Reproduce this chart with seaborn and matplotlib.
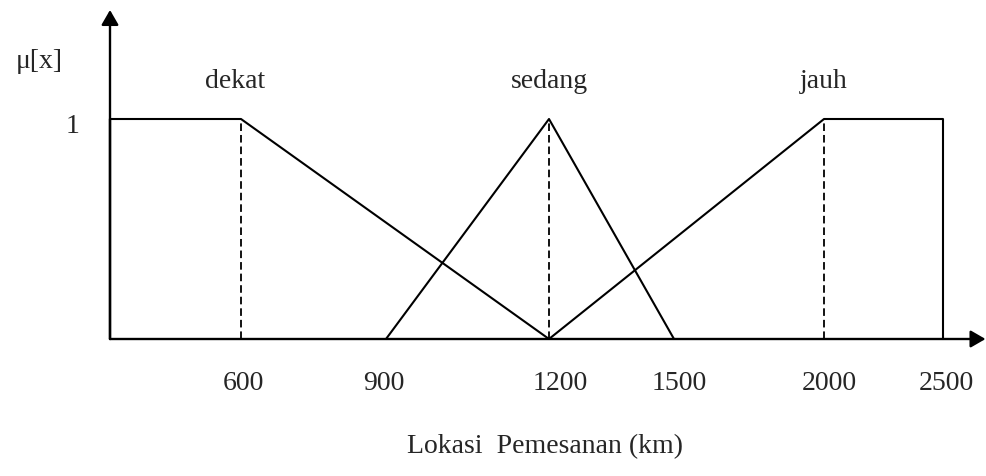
import numpy as np
import pandas as pd
import matplotlib
matplotlib.use("Agg")
import matplotlib.pyplot as plt
import matplotlib.transforms as mtransforms
import seaborn as sns

# Membership function breakpoints: distance (km) and degree of membership
dekat_km = [0, 600, 1200]
dekat_mu = [1, 1, 0]
sedang_km = [900, 1200, 1500]
sedang_mu = [0, 1, 0]
jauh_km = [1200, 2000, 2500, 2500]
jauh_mu = [0, 1, 1, 0]
set_names = ["dekat", "sedang", "jauh"]
set_label_km = [600, 1200, 2000]
guide_km = [600, 1200, 2000]
tick_km = [600, 900, 1200, 1500, 2000, 2500]
tick_labels = ["600", "900", "1200", "1500", "2000", "2500"]

# The horizontal axis is drawn as a sketch, not to a uniform scale:
# a piecewise-linear map from km to drawing position.
scale_km = np.array([-1000, 0, 600, 900, 1200, 1500, 2000, 2500, 3000], float)
scale_pos = np.array([0, 110, 241, 386, 549, 674, 824, 943, 986], float)

# small horizontal nudges (pixels) for hand-placed labels
set_label_nudge = [-6, 0, 0]
tick_label_nudge = [2, -2, 11, 5, 5, 3]


def forward(x):
    return np.interp(x, scale_km, scale_pos)


def inverse(p):
    return np.interp(p, scale_pos, scale_km)


df = pd.concat([
    pd.DataFrame({"km": dekat_km, "mu": dekat_mu, "set": "dekat"}),
    pd.DataFrame({"km": sedang_km, "mu": sedang_mu, "set": "sedang"}),
    pd.DataFrame({"km": jauh_km, "mu": jauh_mu, "set": "jauh"}),
], ignore_index=True)

sns.set_theme(style="white")
plt.rcParams["font.family"] = ["Liberation Serif", "DejaVu Serif"]

W, H = 986, 476
fig = plt.figure(figsize=(W / 100, H / 100), dpi=100)
ax = fig.add_axes([0, 0, 1, 1])
ax.set_xscale("function", functions=(forward, inverse))
ax.set_xlim(-1000, 3000)
# degree 0 sits at y=339 px, degree 1 at y=119 px
unit = 220.0
ax.set_ylim(-(H - 339) / unit, 339 / unit)
ax.axis("off")

lw = 1.5
sns.lineplot(data=df, x="km", y="mu", hue="set", hue_order=set_names,
             palette=["black"] * 3, sort=False, estimator=None,
             legend=False, linewidth=lw, ax=ax)

# dashed guides from the peaks down to the axis
for g in guide_km:
    ax.plot([g, g], [0, 1], color="black", lw=1.3, dashes=(4.2, 2.2),
            solid_capstyle="butt")

# axes with arrow heads
arrow = dict(arrowstyle="-|>,head_length=0.9,head_width=0.52",
             mutation_scale=10, lw=1.7, color="black",
             shrinkA=0, shrinkB=0)
x_tip = inverse(985.5)
ax.annotate("", xy=(x_tip, 0), xytext=(0, 0), arrowprops=arrow)
ax.annotate("", xy=(0, 329 / unit), xytext=(0, 0), arrowprops=arrow)
ax.plot([0, 0], [0, 1], color="black", lw=1.7)


def shifted(dx_px):
    return ax.transData + mtransforms.ScaledTranslation(dx_px / 100, 0, fig.dpi_scale_trans)


fs = 20
for name, k, dx in zip(set_names, set_label_km, set_label_nudge):
    ax.text(k, (339 - 88) / unit, name, ha="center", va="baseline",
            fontsize=fs, transform=shifted(dx))

for k, lab, dx in zip(tick_km, tick_labels, tick_label_nudge):
    ax.text(k, -(390 - 339) / unit, lab, ha="center", va="baseline",
            fontsize=fs, transform=shifted(dx))

ax.text(inverse(73), (339 - 133) / unit, "1", ha="center", va="baseline", fontsize=fs)
ax.text(inverse(39), (339 - 61) / unit, "μ[x]", ha="center", va="center", fontsize=fs)
ax.text(inverse(545), -(453 - 339) / unit, "Lokasi  Pemesanan (km)",
        ha="center", va="baseline", fontsize=fs)

fig.savefig("out.png", dpi=100)
